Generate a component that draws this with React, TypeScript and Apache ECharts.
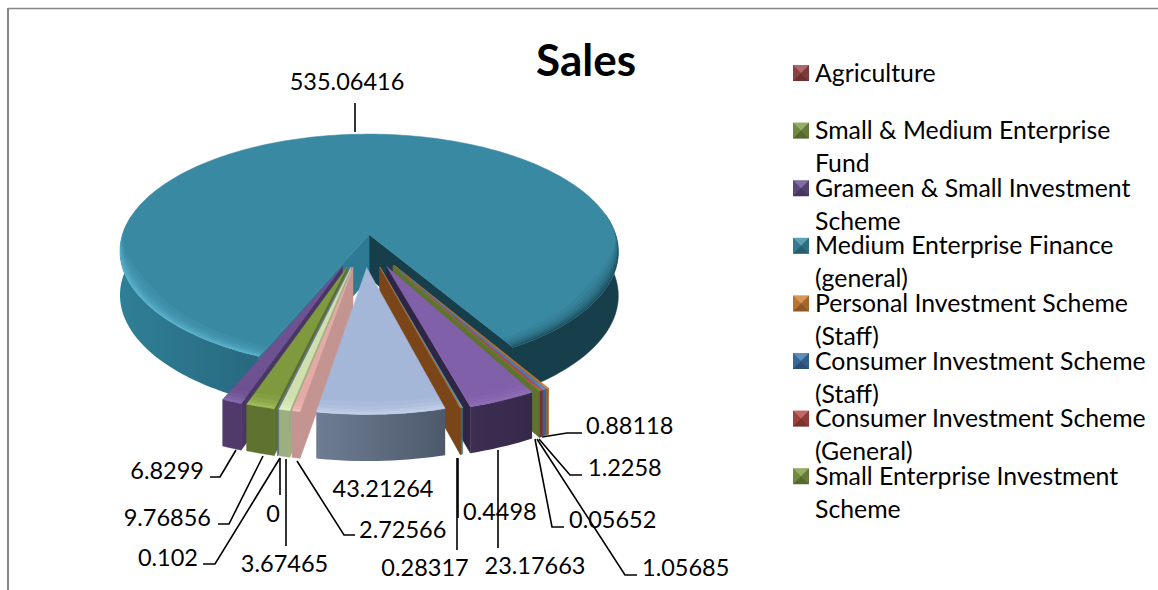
import React, { useEffect, useRef } from "react";
import * as echarts from "echarts";

const TITLE = "Sales";
const FONT = "Lato, Carlito, 'Open Sans', sans-serif";

// Values in drawing order, clockwise from the first slice
const sliceValues = [0, 0.102, 9.76856, 6.8299, 535.06416, 0.88118, 1.2258, 1.05685, 0.05652, 23.17663, 0.4498, 0.28317, 43.21264, 2.72566, 3.67465];

const legendLines = [
  ["Agriculture"],
  ["Small & Medium Enterprise", "Fund"],
  ["Grameen & Small Investment", "Scheme"],
  ["Medium Enterprise Finance", "(general)"],
  ["Personal Investment Scheme", "(Staff)"],
  ["Consumer Investment Scheme", "(Staff)"],
  ["Consumer Investment Scheme", "(General)"],
  ["Small Enterprise Investment", "Scheme"],
];
const legendColors = ["#9c4a48", "#7f9a46", "#67508c", "#3a8aa3", "#d07f35", "#3f74ad", "#b34a46", "#7f9a46"];

// styles per slice
const topColors = ["#8064a2", "#6f7fa8", "#7f9a3e", "#6d5190", "#3a89a3", "#c0722a", "#4f78b0", "#b04a46", "#6f8a35", "#8060a8", "#4aa0b8", "#b56a26", "#a5b7d8", "#e3aaa6", "#cfe0ac"];
const wallColors = ["#5a4a78", "#5a6a92", "#5f7230", "#4f3a6b", "#2c7088", "#9a5a20", "#3d5f8c", "#7a2e2b", "#5f7230", "#392b4e", "#33788c", "#7a4518", "#5e6b80", "#c49490", "#9dae80"];
const sideColors = ["#5a4a78", "#5a6a92", "#5a6e2c", "#4a3567", "#2f7a93", "#a86426", "#3d5f8c", "#8a3835", "#5f7230", "#2f2545", "#3a8aa0", "#7a4518", "#5e6b80", "#c49490", "#9dae80"];
const rimColors = ["#9f88c0", "#8b9cc4", "#a4c060", "#8a6cb0", "#5fb8d2", "#d8863a", "#6a94cc", "#c86662", "#8aa848", "#8f6eb6", "#6ac0d8", "#c87c30", "#c4d2ea", "#f2bebb", "#e3f0c4"];
const TEAL = 4;

// Layout of the pie projection
const CX = 364, CY = 252, RX = 252, RY = 120, PERSP = 0.148, HEIGHT = 44, EX = 0.235, EY = 0.128, START = 193.4;
const TEAL_DX = 0.036, TEAL_DY = -0.022;

// Layout of the data labels: slice index, text anchor and leader line
const labelLayout: { i: number; x: number; y: number; align: string; line: number[][] }[] = [
  { i: 4, x: 347, y: 81, align: "center", line: [[355, 103], [355, 132]] },
  { i: 3, x: 204, y: 470, align: "right", line: [[210, 477], [220, 477], [236, 450]] },
  { i: 2, x: 211, y: 517, align: "right", line: [[218, 524], [229, 524], [263, 456]] },
  { i: 1, x: 198, y: 557, align: "right", line: [[203, 564], [215, 564], [280, 458]] },
  { i: 0, x: 273, y: 513, align: "center", line: [[280, 458], [280, 495]] },
  { i: 14, x: 284.5, y: 563, align: "center", line: [[286, 459], [286, 546]] },
  { i: 13, x: 359, y: 529, align: "left", line: [[297, 461], [344, 535], [355, 535]] },
  { i: 12, x: 383, y: 488, align: "center", line: [] },
  { i: 11, x: 425, y: 567, align: "center", line: [[457, 458], [457, 550]] },
  { i: 10, x: 463, y: 511, align: "left", line: [[458, 458], [458, 518]] },
  { i: 9, x: 535, y: 565, align: "center", line: [[498, 450], [498, 548]] },
  { i: 8, x: 569, y: 519, align: "left", line: [[535, 439], [552, 527], [564, 527]] },
  { i: 7, x: 642, y: 567, align: "left", line: [[537, 439], [625, 575], [637, 575]] },
  { i: 6, x: 588, y: 467, align: "left", line: [[539, 439], [570, 475], [582, 475]] },
  { i: 5, x: 586, y: 425, align: "left", line: [[542, 437], [567, 433], [582, 433]] },
];

const RAD = Math.PI / 180;
const total = sliceValues.reduce((a, b) => a + b, 0);
let cursor = START;
const arcs = sliceValues.map((v, i) => {
  const t0 = cursor;
  const t1 = cursor + (v / total) * 360;
  cursor = t1;
  const mid = (t0 + t1) / 2;
  return {
    t0, t1, mid,
    ox: EX * Math.sin(mid * RAD) + (i === TEAL ? TEAL_DX : 0),
    oy: -EY * Math.cos(mid * RAD) + (i === TEAL ? TEAL_DY : 0),
  };
});

function project(i: number, r: number, t: number, z: number): number[] {
  const px = arcs[i].ox + r * Math.sin(t * RAD);
  const py = arcs[i].oy - r * Math.cos(t * RAD);
  const s = 1 / (1 - PERSP * py);
  return [CX + RX * px * s, CY + RY * py * s + z * HEIGHT * (1 + (s - 1) * 0.3)];
}
function sampleAngles(a: number, b: number): number[] {
  const n = Math.max(1, Math.ceil((b - a) / 1.5));
  const out: number[] = [];
  for (let k = 0; k <= n; k++) out.push(a + ((b - a) * k) / n);
  return out;
}
// sub-ranges of [t0,t1] that lie on the side turned to the viewer
function frontRanges(t0: number, t1: number): number[][] {
  const out: number[][] = [];
  for (const [a, b] of [[80, 280], [440, 640]]) {
    const lo = Math.max(a, t0), hi = Math.min(b, t1);
    if (hi > lo) out.push([lo, hi]);
  }
  return out;
}
// rim band whose width fades out towards the sides of the pie
function band(i: number, a: number, b: number, w0: number, w1: number): number[][] {
  const angles = sampleAngles(a, b);
  const taper = (t: number) => {
    const f = Math.max(0, Math.min(1, -Math.cos(t * RAD) / 0.55 + 0.12));
    return f * f * (3 - 2 * f);
  };
  return [
    ...angles.map((t) => project(i, 1 - w1 * taper(t), t, 0)),
    ...angles.slice().reverse().map((t) => project(i, 1 - w0 * taper(t), t, 0)),
  ];
}
function hGrad(from: string, to: string) {
  return { type: "linear", x: 0, y: 0, x2: 1, y2: 0, colorStops: [{ offset: 0, color: from }, { offset: 1, color: to }] };
}

function sliceShapes(i: number) {
  const { t0, t1 } = arcs[i];
  const children: any[] = [];
  if (t1 <= t0) return children;
  const poly = (points: number[][], fill: any, stroke?: string, opacity = 1) => ({
    type: "polygon", shape: { points }, style: { fill, stroke: stroke ?? "none", lineWidth: stroke ? 0.5 : 0, opacity }, silent: true,
  });
  const tip = (z: number) => project(i, 0, t0, z);
  const isTeal = i === TEAL;
  // radial walls turned to the viewer
  const n0 = t0 % 360, n1 = t1 % 360;
  if (n1 < 180) {
    const e = [project(i, 1, t1, 0), project(i, 1, t1, 1)];
    children.push(poly([tip(0), e[0], e[1], tip(1)], isTeal ? "#173f4b" : sideColors[i], isTeal ? "#173f4b" : sideColors[i]));
  }
  if (n0 > 180) {
    const e = [project(i, 1, t0, 0), project(i, 1, t0, 1)];
    children.push(poly([tip(0), e[0], e[1], tip(1)], sideColors[i], sideColors[i]));
  }
  // outer wall
  for (const [a, b] of frontRanges(t0, t1)) {
    const angles = sampleAngles(a, b);
    const pts = [...angles.map((t) => project(i, 1, t, 0)), ...angles.slice().reverse().map((t) => project(i, 1, t, 1))];
    let fill: any = wallColors[i];
    if (isTeal) fill = a > 360 ? "#173f4b" : hGrad("#2f7f97", "#27697e");
    if (i === 12) fill = hGrad("#6e7d93", "#4e5a6c");
    if (i === 9) fill = hGrad("#3d2e52", "#35294a");
    children.push(poly(pts, fill, typeof fill === "string" ? fill : undefined));
  }
  // top face
  const angles = sampleAngles(t0, t1);
  children.push(poly([tip(0), ...angles.map((t) => project(i, 1, t, 0))], topColors[i], topColors[i]));
  // soft rim on the front of the top face
  for (const [a, b] of frontRanges(t0, t1)) {
    const rim = isTeal && a > 360 ? "#1a4a58" : rimColors[i];
    const steps = isTeal
      ? [[0, 0.008, 0.9], [0.008, 0.016, 0.7], [0.016, 0.026, 0.5], [0.026, 0.038, 0.32], [0.038, 0.052, 0.2], [0.052, 0.07, 0.1]]
      : [[0, 0.015, 0.85], [0.015, 0.03, 0.6], [0.03, 0.05, 0.35], [0.05, 0.075, 0.15]];
    for (const [w0, w1, op] of steps) children.push(poly(band(i, a, b, w0, w1), rim, undefined, op));
  }
  return children;
}

// back to front: the teal slice, then inwards towards the viewer on each side
const paintOrder = sliceValues
  .map((_, i) => i)
  .sort((a, b) => Math.abs(((arcs[b].mid % 360) - 180)) - Math.abs(((arcs[a].mid % 360) - 180)));

function buildGraphics() {
  const g: any[] = [];
  // chart frame
  g.push({ type: "line", shape: { x1: 8, y1: 8.5, x2: 1158, y2: 8.5 }, style: { stroke: "#868686", lineWidth: 1.5 }, silent: true });
  g.push({ type: "line", shape: { x1: 8, y1: 8, x2: 8, y2: 590 }, style: { stroke: "#868686", lineWidth: 2 }, silent: true });
  g.push({ type: "text", x: 586, y: 59, style: { text: TITLE, font: `bold 44px ${FONT}`, fill: "#000", textAlign: "center", textVerticalAlign: "middle" } });
  // data labels
  for (const l of labelLayout) {
    if (l.line.length) g.push({ type: "polyline", shape: { points: l.line }, style: { stroke: "#000", lineWidth: 1.6, fill: "none" }, silent: true });
    g.push({ type: "text", x: l.x, y: l.y, style: { text: String(sliceValues[l.i]), font: `23.5px ${FONT}`, fill: "#000", textAlign: l.align, textVerticalAlign: "middle" } });
  }
  // legend
  legendLines.forEach((lines, k) => {
    const cy = 73 + k * 57.6;
    const x0 = 793, y0 = cy - 8, s = 16;
    g.push({ type: "rect", shape: { x: x0, y: y0, width: s, height: s }, style: { fill: legendColors[k] }, silent: true });
    const c = [x0 + s / 2, y0 + s / 2];
    const tri = (a: number[], b: number[], fill: string) =>
      g.push({ type: "polygon", shape: { points: [a, b, c] }, style: { fill }, silent: true });
    tri([x0, y0], [x0 + s, y0], "rgba(255,255,255,0.18)");
    tri([x0, y0 + s], [x0 + s, y0 + s], "rgba(0,0,0,0.32)");
    tri([x0, y0], [x0, y0 + s], "rgba(0,0,0,0.1)");
    tri([x0 + s, y0], [x0 + s, y0 + s], "rgba(0,0,0,0.2)");
    lines.forEach((t, j) => {
      g.push({ type: "text", x: 815, y: cy - 1 + j * 33, style: { text: t, font: `24.8px ${FONT}`, fill: "#000", textAlign: "left", textVerticalAlign: "middle" } });
    });
  });
  return g;
}

export default function App() {
  const ref = useRef<HTMLDivElement>(null);
  useEffect(() => {
    if (!ref.current) return;
    const chart = echarts.init(ref.current, undefined, { renderer: "svg" });
    chart.setOption({
      animation: false,
      backgroundColor: "#ffffff",
      series: [
        {
          type: "custom",
          coordinateSystem: "none",
          silent: true,
          data: paintOrder.map((i) => [i, sliceValues[i]]),
          renderItem: (_p: any, api: any) => ({ type: "group", children: sliceShapes(api.value(0)) }),
        },
      ],
      graphic: { elements: buildGraphics() },
    });
    return () => chart.dispose();
  }, []);
  return <div ref={ref} style={{ position: "absolute", left: 0, top: 0, width: 1158, height: 590 }} />;
}
